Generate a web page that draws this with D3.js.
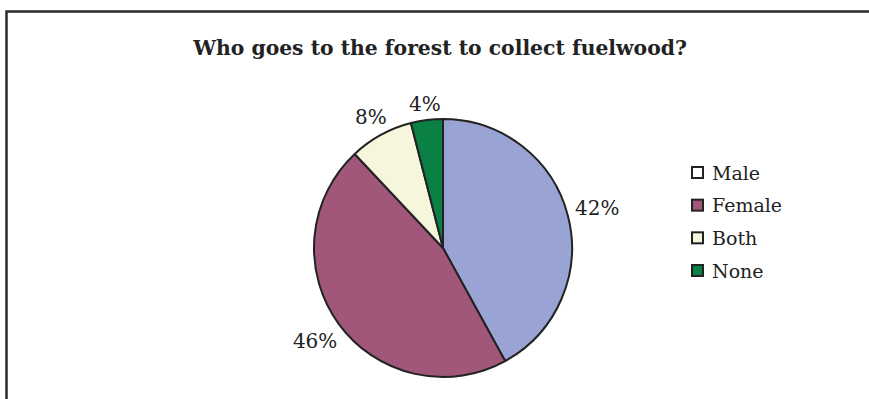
<!DOCTYPE html>
<html lang="en">
  <head>
    <meta charset="utf-8">
    <title>Who goes to the forest to collect fuelwood?</title>
    <script src="https://d3js.org/d3.v7.min.js"></script>
    <style>
      body { margin: 0; background: #fff; }
      svg { display: block; }
    </style>
  </head>
  <body>
    <svg id="chart" width="869" height="399"></svg>
    <script type="text/javascript">
      // data
      var categories = ["Male", "Female", "Both", "None"];
      var shares = [42, 46, 8, 4];
      var sliceColors = ["#99a4d4", "#a0577a", "#f6f6dc", "#0b8045"];
      var legendColors = ["#ffffff", "#a0577a", "#f6f6dc", "#0b8045"];
      var title = "Who goes to the forest to collect fuelwood?";

      var font = "'DejaVu Serif', 'Liberation Serif', serif";
      var svg = d3.select("svg#chart");

      // frame (only top and left edges are visible in the crop)
      svg.append("path")
        .attr("d", "M6.5,399 V11.5 H869")
        .attr("fill", "none")
        .attr("stroke", "#2b2b2b")
        .attr("stroke-width", 2.5);

      var titleText = svg.append("text")
        .attr("x", 440).attr("y", 55)
        .attr("text-anchor", "middle")
        .style("font-family", font)
        .style("font-weight", "bold")
        .style("font-size", "20px")
        .attr("fill", "#222")
        .text(title);
      // fit title to the width it has in the picture (about 494px)
      var tw = titleText.node().getComputedTextLength();
      titleText.style("font-size", (20 * 494 / tw) + "px");

      var cx = 443, cy = 248, r = 129;
      var data = categories.map(function (c, i) {
        return { name: c, value: shares[i], color: sliceColors[i] };
      });

      var pie = d3.pie().sort(null).value(d => d.value);
      var arc = d3.arc().innerRadius(0).outerRadius(r);

      var g = svg.append("g").attr("transform", "translate(" + cx + "," + cy + ")");
      var arcs = pie(data);

      g.selectAll("path.slice").data(arcs).enter().append("path")
        .attr("class", "slice")
        .attr("d", arc)
        .attr("fill", d => d.data.color)
        .attr("stroke", "#222")
        .attr("stroke-width", 2)
        .attr("stroke-linejoin", "round");

      // labels sit a small gap outside the rim, along the slice's mid angle
      var gap = 7;
      g.selectAll("text.label").data(arcs).enter().append("text")
        .attr("class", "label")
        .attr("text-anchor", "middle")
        .attr("dy", "0.35em")
        .style("font-family", font)
        .style("font-size", "20px")
        .attr("fill", "#222")
        .text(d => d.data.value + "%")
        .each(function (d) {
          var a = (d.startAngle + d.endAngle) / 2;
          var s = Math.sin(a), c = Math.cos(a);
          var w = this.getComputedTextLength();
          var ext = Math.abs(s) * w / 2 + Math.abs(c) * 7;
          var rr = r + gap + ext;
          d3.select(this).attr("transform", "translate(" + (rr * s) + "," + (-rr * c) + ")");
        });

      // legend
      var yLegend = d3.scalePoint().domain(categories).range([172, 270]);
      var legend = svg.append("g");
      var items = legend.selectAll("g").data(categories).enter().append("g")
        .attr("transform", d => "translate(692," + yLegend(d) + ")");
      items.append("rect")
        .attr("x", 0).attr("y", -5).attr("width", 11).attr("height", 11)
        .attr("fill", (d, i) => legendColors[i])
        .attr("stroke", "#222")
        .attr("stroke-width", 2);
      items.append("text")
        .attr("x", 20).attr("y", 7.5)
        .style("font-family", font)
        .style("font-size", "19px")
        .attr("fill", "#222")
        .text(d => d);
    </script>
  </body>
</html>
